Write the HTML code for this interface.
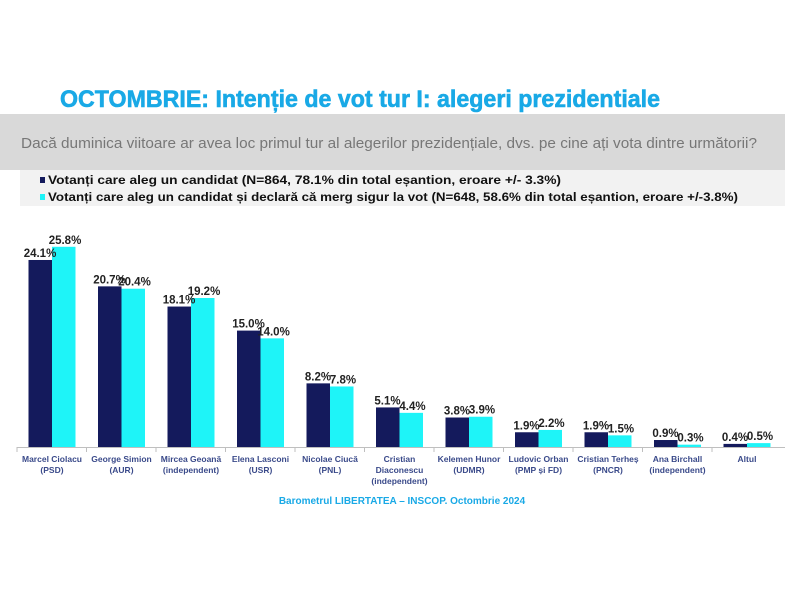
<!DOCTYPE html>
<html><head><meta charset="utf-8"><style>
body{margin:0;background:#fff;width:800px;height:600px;overflow:hidden}
svg{display:block}
</style></head><body>
<svg width="800" height="600" xmlns="http://www.w3.org/2000/svg" font-family="Liberation Sans, sans-serif">
<text x="60" y="107" font-size="24" font-weight="bold" fill="#19a9e6" stroke="#19a9e6" stroke-width="0.6" textLength="600" lengthAdjust="spacingAndGlyphs">OCTOMBRIE: Intenție de vot tur I: alegeri prezidentiale</text>
<rect x="0" y="114" width="785" height="56" fill="#d9d9d9"/>
<text x="21" y="148" font-size="15" fill="#777" textLength="736" lengthAdjust="spacingAndGlyphs">Dacă duminica viitoare ar avea loc primul tur al alegerilor prezidențiale, dvs. pe cine ați vota dintre următorii?</text>
<rect x="20" y="170" width="765" height="36" fill="#f2f2f2"/>
<rect x="40" y="177" width="5" height="6" fill="#141a5c"/>
<text x="48" y="184" font-size="12" font-weight="bold" fill="#111" textLength="513" lengthAdjust="spacingAndGlyphs">Votanți care aleg un candidat (N=864, 78.1% din total eșantion, eroare +/- 3.3%)</text>
<rect x="40" y="194" width="5" height="6" fill="#1ef4f8"/>
<text x="48" y="201" font-size="12" font-weight="bold" fill="#111" textLength="690" lengthAdjust="spacingAndGlyphs">Votanți care aleg un candidat și declară că merg sigur la vot (N=648, 58.6% din total eșantion, eroare +/-3.8%)</text>
<line x1="17" y1="447.5" x2="785" y2="447.5" stroke="#bfbfbf" stroke-width="1"/>
<g id="bars"></g>
<text x="402" y="504" font-size="10" font-weight="bold" fill="#19a9e6" text-anchor="middle">Barometrul LIBERTATEA – INSCOP. Octombrie 2024</text>
</svg>
<script>
const d=[["Marcel Ciolacu","(PSD)",24.1,25.8],["George Simion","(AUR)",20.7,20.4],["Mircea Geoană","(independent)",18.1,19.2],["Elena Lasconi","(USR)",15.0,14.0],["Nicolae Ciucă","(PNL)",8.2,7.8],["Cristian","Diaconescu","(independent)",5.1,4.4],["Kelemen Hunor","(UDMR)",3.8,3.9],["Ludovic Orban","(PMP și FD)",1.9,2.2],["Cristian Terheș","(PNCR)",1.9,1.5],["Ana Birchall","(independent)",0.9,0.3],["Altul",0.4,0.5]];
let s="";const k=7.76,b=447;
d.forEach((r,i)=>{const c=52+69.5*i;const nums=r.filter(x=>typeof x==="number");const labs=r.filter(x=>typeof x==="string");
const [v1,v2]=nums;const h1=Math.max(v1*k,3),h2=Math.max(v2*k,2);
s+=`<rect x="${c-23.5}" y="${b-h1}" width="23.5" height="${h1}" fill="#141a5c"/><rect x="${c}" y="${b-h2}" width="23.5" height="${h2}" fill="#1ef4f8"/>`;
s+=`<text x="${c-12}" y="${b-h1-3}" font-size="11.5" font-weight="bold" fill="#222" text-anchor="middle">${v1.toFixed(1)}%</text>`;
s+=`<text x="${c+13}" y="${b-h2-3}" font-size="11.5" font-weight="bold" fill="#222" text-anchor="middle">${v2.toFixed(1)}%</text>`;
s+=`<line x1="${c-35}" y1="447" x2="${c-35}" y2="452" stroke="#bfbfbf"/>`;
labs.forEach((l,j)=>{s+=`<text x="${c}" y="${462+j*11}" font-size="8.5" font-weight="bold" fill="#3a4a8a" text-anchor="middle">${l}</text>`;});
});
document.getElementById("bars").innerHTML=s;
</script>
</body></html>
